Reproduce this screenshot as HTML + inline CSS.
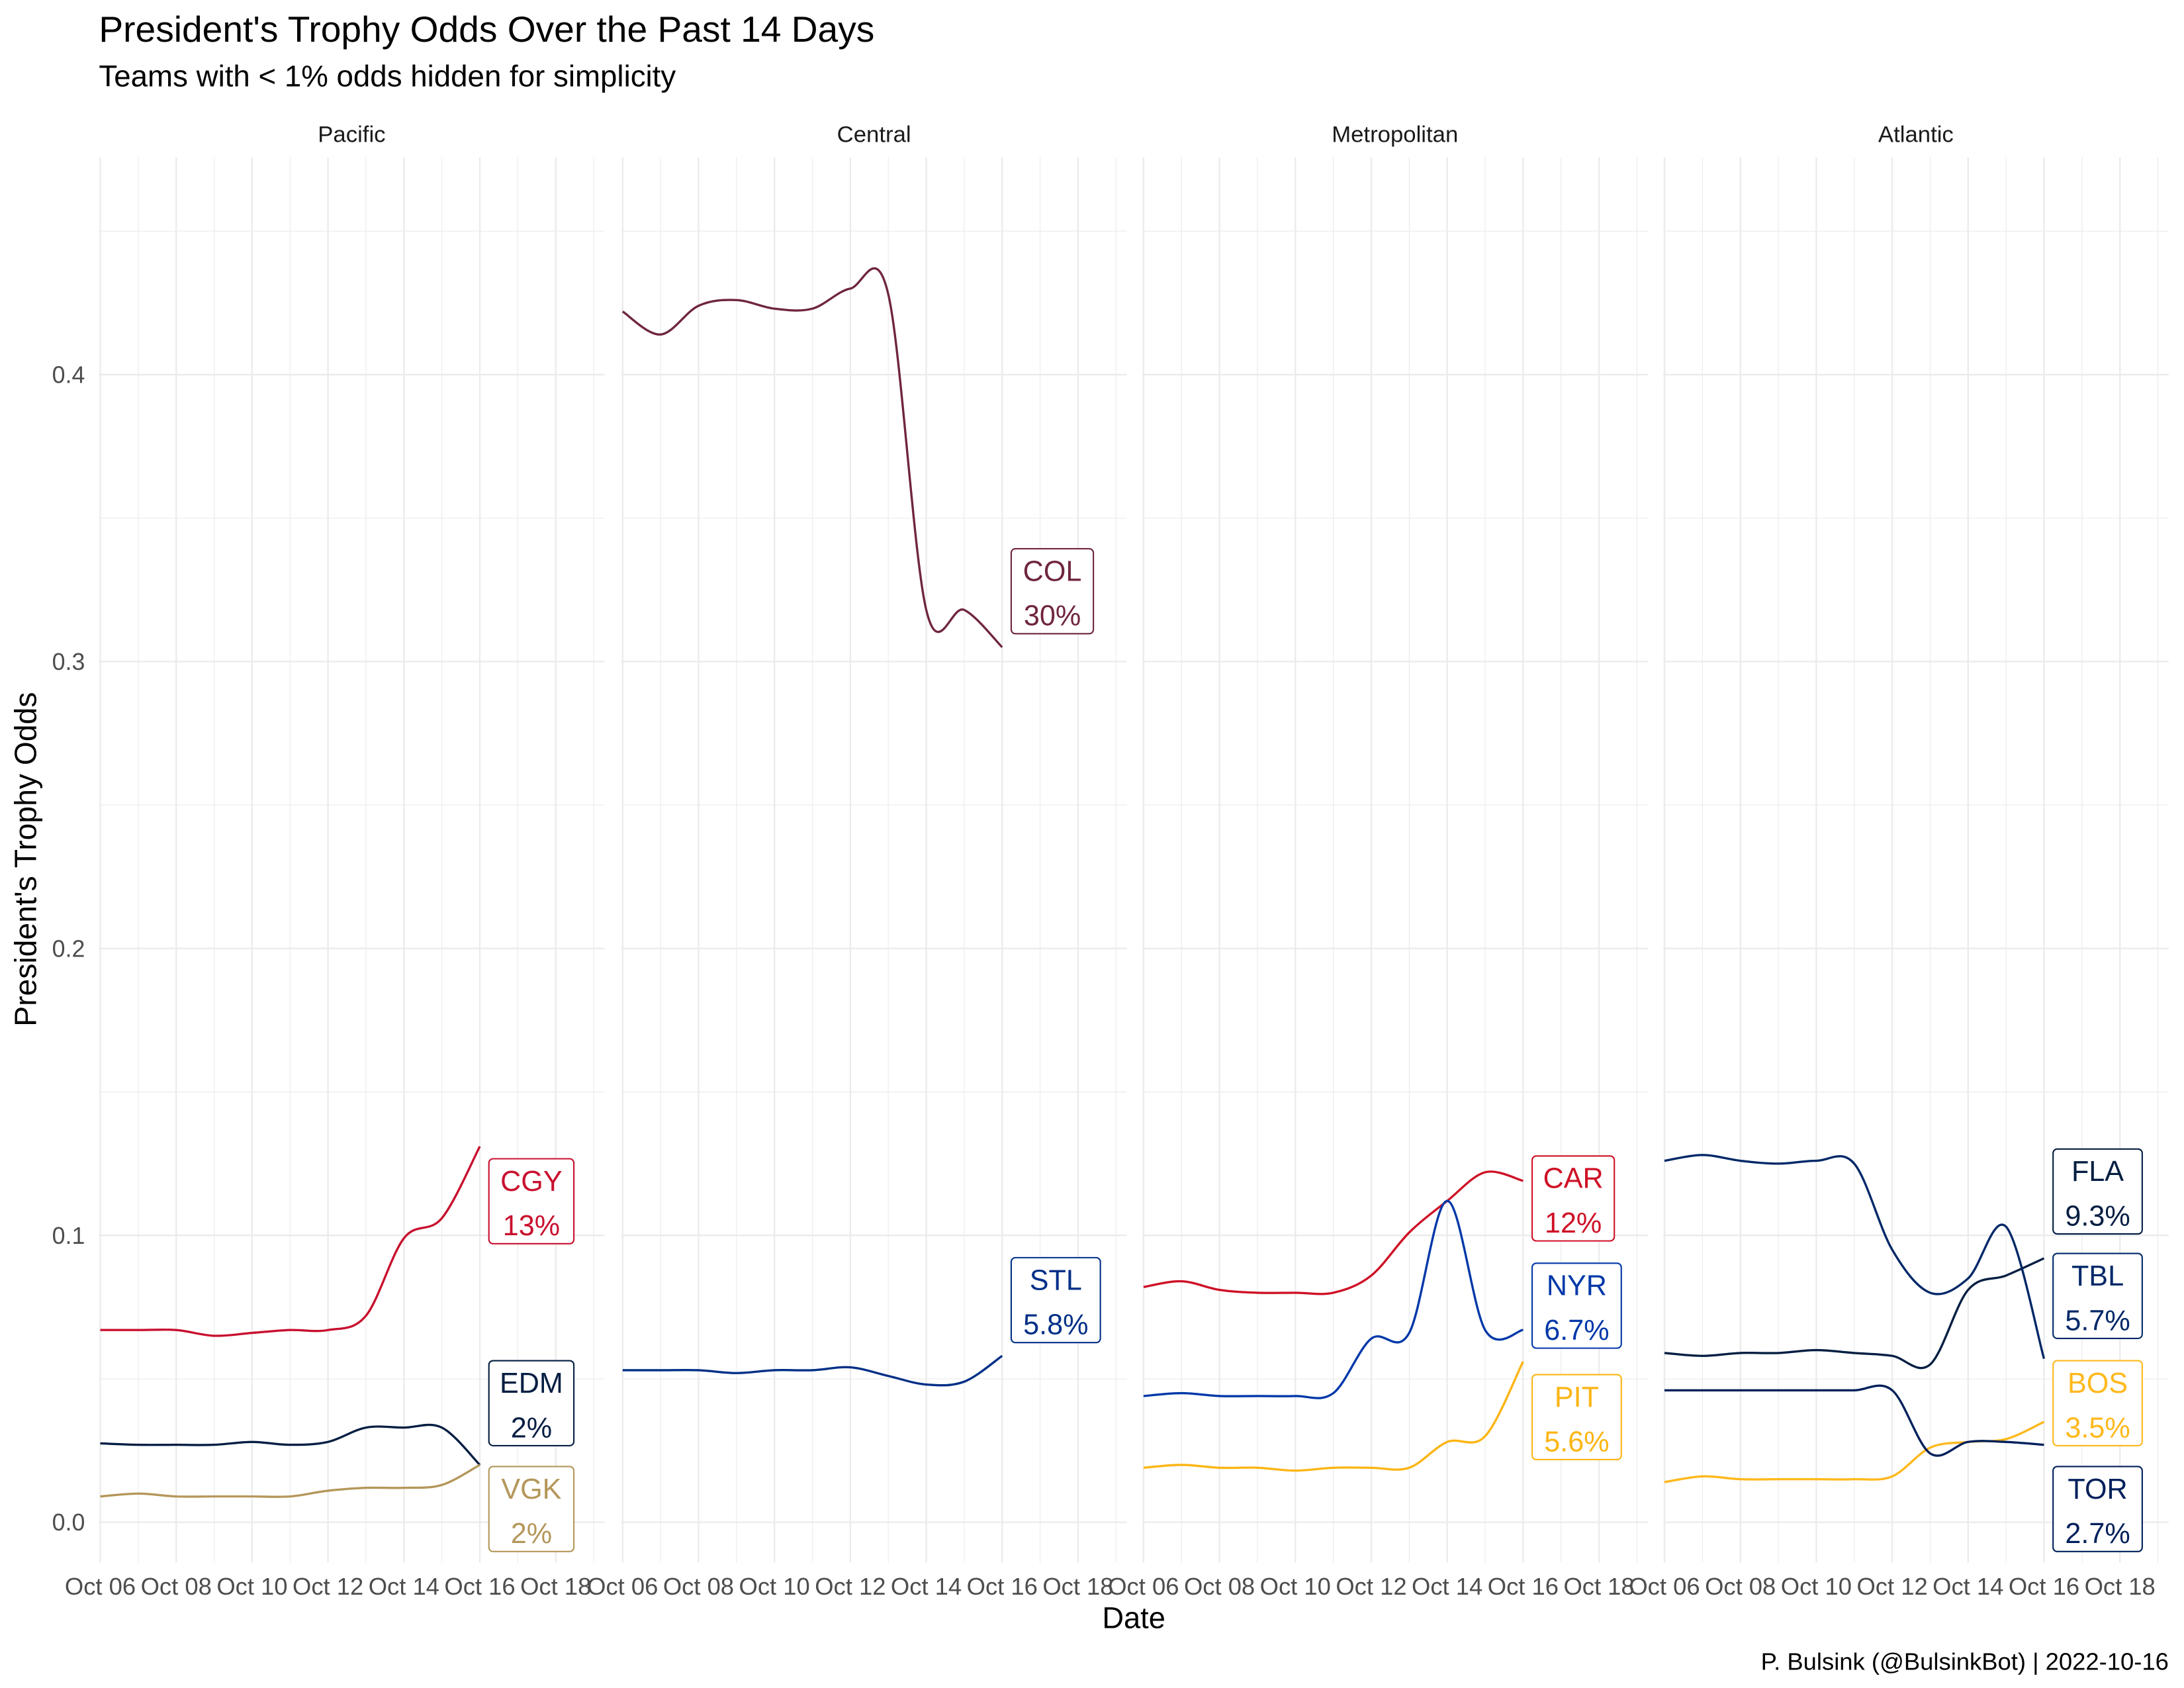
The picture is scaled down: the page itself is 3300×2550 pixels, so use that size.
<!DOCTYPE html>
<html><head><meta charset="utf-8"><style>
html,body{margin:0;padding:0;background:#fff;}
svg{display:block;font-family:"Liberation Sans",Arial,sans-serif;}
</style></head><body>
<svg id="chart" width="3300" height="2550" viewBox="0 0 1568 1212" preserveAspectRatio="none">
<rect x="0" y="0" width="1568" height="1212" fill="#fff"/>
<text x="71" y="30" font-size="26.2" fill="#000">President's Trophy Odds Over the Past 14 Days</text>
<text x="71" y="62" font-size="21.7" fill="#000">Teams with &lt; 1% odds hidden for simplicity</text>
<g id="panels"></g>
<text x="814" y="1169" font-size="21.5" text-anchor="middle" fill="#000">Date</text>
<text transform="translate(26,617) rotate(-90)" font-size="22" text-anchor="middle" fill="#000">President's Trophy Odds</text>
<text x="1557" y="1199" font-size="17.3" text-anchor="end" fill="#000">P. Bulsink (@BulsinkBot) | 2022-10-16</text>
</svg>
<script>
const divisions = ["Pacific","Central","Metropolitan","Atlantic"];
const days = [0,1,2,3,4,5,6,7,8,9,10];
const tickLabels = ["Oct 06","Oct 08","Oct 10","Oct 12","Oct 14","Oct 16","Oct 18"];
const tickDays = [0,2,4,6,8,10,12];
const yTicks = [0,0.1,0.2,0.3,0.4];
const yTickLabels = ["0.0","0.1","0.2","0.3","0.4"];
const teams = ["CGY","EDM","VGK","COL","STL","CAR","NYR","PIT","FLA","TBL","BOS","TOR"];
const teamDivision = [0,0,0,1,1,2,2,2,3,3,3,3];
const teamColors = ["#C8102E","#041E42","#B4975A","#6F263D","#002F87","#CE1126","#0038A8","#FCB514","#041E42","#002868","#FFB81C","#00205B"];
const finalLabels = ["13%","2%","2%","30%","5.8%","12%","6.7%","5.6%","9.3%","5.7%","3.5%","2.7%"];
const valCGY = [0.067,0.067,0.067,0.065,0.066,0.067,0.067,0.072,0.099,0.106,0.131];
const valEDM = [0.0275,0.027,0.027,0.027,0.028,0.027,0.028,0.033,0.033,0.033,0.020];
const valVGK = [0.009,0.010,0.009,0.009,0.009,0.009,0.011,0.012,0.012,0.013,0.020];
const valCOL = [0.422,0.414,0.424,0.426,0.423,0.423,0.430,0.428,0.318,0.318,0.305];
const valSTL = [0.053,0.053,0.053,0.052,0.053,0.053,0.054,0.051,0.048,0.049,0.058];
const valCAR = [0.082,0.084,0.081,0.080,0.080,0.080,0.086,0.101,0.112,0.122,0.119];
const valNYR = [0.044,0.045,0.044,0.044,0.044,0.045,0.064,0.066,0.112,0.067,0.067];
const valPIT = [0.019,0.020,0.019,0.019,0.018,0.019,0.019,0.019,0.028,0.030,0.056];
const valFLA = [0.059,0.058,0.059,0.059,0.060,0.059,0.058,0.055,0.081,0.086,0.092];
const valTBL = [0.126,0.128,0.126,0.125,0.126,0.125,0.095,0.080,0.085,0.103,0.057];
const valBOS = [0.014,0.016,0.015,0.015,0.015,0.015,0.016,0.026,0.028,0.029,0.035];
const valTOR = [0.046,0.046,0.046,0.046,0.046,0.046,0.046,0.024,0.028,0.028,0.027];
const series = [valCGY,valEDM,valVGK,valCOL,valSTL,valCAR,valNYR,valPIT,valFLA,valTBL,valBOS,valTOR];

const NS="http://www.w3.org/2000/svg";
const panelLeft=[71,446,820,1194], panelW=363, plotTop=113, plotBottom=1122;
function xScale(p,d){return panelLeft[p]+1+d*27.25;}
function yScale(v){return 1093-v*2060;}
const labelBoxY=[832,977,1053,394,903,830,907,987,825,900,977,1053];
const labelBoxW=[61,61,61,59,64,59,64,64,64,64,64,64];
function el(tag,attrs,parent){const e=document.createElementNS(NS,tag);for(const k in attrs)e.setAttribute(k,attrs[k]);parent.appendChild(e);return e;}
const g=document.getElementById('panels');
divisions.forEach((dv,p)=>{
  const pg=el('g',{},g);
  
  
  const L=panelLeft[p];
  for(let d=-1;d<=13;d++){const x=xScale(p,d);if(x<L-0.5||x>L+panelW)continue;
    const major=(d%2===0);
    const ln=el('line',{x1:x,x2:x,y1:plotTop,y2:plotBottom,stroke:'#EBEBEB','stroke-width':major?1.1:0.55},pg);
    
    }
  for(let k=0;k<=9;k++){const v=k*0.05;const y=yScale(v);const major=(k%2===0);
    const ln=el('line',{x1:L,x2:L+panelW,y1:y,y2:y,stroke:'#EBEBEB','stroke-width':major?1.1:0.55},pg);
    
    }
  const st=el('text',{x:L+panelW/2,y:102,'font-size':16.5,'text-anchor':'middle',fill:'#1A1A1A'},pg);st.textContent=dv;
  
  
  tickDays.forEach((d,i)=>{const t=el('text',{x:xScale(p,d),y:1145,'font-size':17.3,'text-anchor':'middle',fill:'#4D4D4D'},pg);t.textContent=tickLabels[i];
    
    });
});
yTicks.forEach((v,i)=>{const t=el('text',{x:61,y:yScale(v)+6,'font-size':17,'text-anchor':'end',fill:'#4D4D4D'},g);t.textContent=yTickLabels[i];
  
  });
function pathFor(pts){let d='M'+pts[0][0]+','+pts[0][1];
  for(let i=0;i<pts.length-1;i++){const p0=pts[Math.max(0,i-1)],p1=pts[i],p2=pts[i+1],p3=pts[Math.min(pts.length-1,i+2)];
    const c1=[p1[0]+(p2[0]-p0[0])/6,p1[1]+(p2[1]-p0[1])/6],c2=[p2[0]-(p3[0]-p1[0])/6,p2[1]-(p3[1]-p1[1])/6];
    d+=' C'+c1[0]+','+c1[1]+' '+c2[0]+','+c2[1]+' '+p2[0]+','+p2[1];}
  return d;}
series.forEach((vals,i)=>{const p=teamDivision[i];
  const pts=days.map((d,j)=>[xScale(p,d),yScale(vals[j])]);
  const path=el('path',{d:pathFor(pts),fill:'none',stroke:teamColors[i],'stroke-width':1.6},g);
  
  
  const bx=panelLeft[p]+280, by=labelBoxY[i], bw=labelBoxW[i];
  const lg=el('g',{},g);
  
  
  el('rect',{x:bx,y:by,width:bw,height:61,rx:3,fill:'#fff',stroke:teamColors[i],'stroke-width':1},lg);
  const t1=el('text',{x:bx+bw/2,y:by+23,'font-size':20.5,'text-anchor':'middle',fill:teamColors[i]},lg);t1.textContent=teams[i];
  const t2=el('text',{x:bx+bw/2,y:by+55,'font-size':20.5,'text-anchor':'middle',fill:teamColors[i]},lg);t2.textContent=finalLabels[i];
});
</script>
</body></html>
